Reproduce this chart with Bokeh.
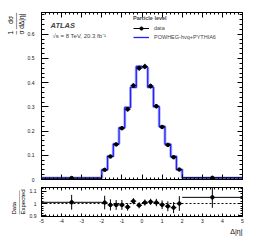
import numpy as np
from bokeh.plotting import figure
from bokeh.layouts import column
from bokeh.models import (Range1d, LinearAxis, FixedTicker, Label, Legend,
                          LegendItem, Span, Title)
from bokeh.embed import file_html
from bokeh.resources import INLINE

# ---------------- data ----------------
bin_edges = [-5.0, -2.0, -1.7143, -1.4286, -1.1429, -0.8571, -0.5714, -0.2857,
             0.0, 0.2857, 0.5714, 0.8571, 1.1429, 1.4286, 1.7143, 2.0, 5.0]
data_vals = [0.006, 0.040, 0.095, 0.145, 0.212, 0.290, 0.388, 0.460,
             0.467, 0.386, 0.303, 0.217, 0.143, 0.092, 0.041, 0.007]
data_err = [0.0006, 0.002, 0.004, 0.006, 0.008, 0.009, 0.010, 0.011,
            0.011, 0.010, 0.009, 0.008, 0.006, 0.004, 0.002, 0.0006]
mc_vals = [0.006, 0.040, 0.096, 0.147, 0.214, 0.298, 0.381, 0.467,
           0.463, 0.381, 0.301, 0.219, 0.146, 0.095, 0.041, 0.0067]
ratio_vals = [1.01, 1.008, 0.989, 0.989, 0.989, 0.972, 1.019, 0.986,
              1.008, 1.014, 1.008, 0.990, 0.978, 0.967, 1.000, 1.05]
ratio_err = [0.06, 0.055, 0.045, 0.04, 0.04, 0.03, 0.025, 0.025,
             0.025, 0.025, 0.03, 0.035, 0.04, 0.045, 0.06, 0.085]

x_ticks = [-5, -4, -3, -2, -1, 0, 1, 2, 3, 4, 5]
x_tick_labels = ["-5", "-4", "-3", "-2", "-1", "0", "1", "2", "3", "4", "5"]
y_ticks = [0.0, 0.1, 0.2, 0.3, 0.4, 0.5, 0.6]
y_tick_labels = ["0", "0.1", "0.2", "0.3", "0.4", "0.5", "0.6"]
r_ticks = [0.9, 1.0, 1.1]
r_tick_labels = ["0.9", "1", "1.1"]

FONT = "Liberation Sans"
NB = "\u00A0"

edges = np.array(bin_edges)
lo = edges[:-1]
hi = edges[1:]
centers = 0.5 * (lo + hi)
dv = np.array(data_vals)
de = np.array(data_err)
rv = np.array(ratio_vals)
re_ = np.array(ratio_err)

x_minor = [float(v) for v in np.round(np.arange(-5, 5.0001, 0.2), 4)]
y_minor = [float(v) for v in np.round(np.arange(0, 0.69, 0.02), 4)]
r_minor = [float(v) for v in np.round(np.arange(0.9, 1.13, 0.02), 4)]


def style_axis(ax, ticks, labels, minor, show_labels, tick_len, minor_len,
               standoff=2, font_size="5px"):
    ax.ticker = FixedTicker(ticks=ticks, minor_ticks=minor)
    ax.major_label_overrides = {t: l for t, l in zip(ticks, labels)}
    ax.major_tick_in = tick_len
    ax.major_tick_out = 0
    ax.minor_tick_in = minor_len
    ax.minor_tick_out = 0
    ax.axis_line_color = "black"
    ax.major_tick_line_color = "black"
    ax.minor_tick_line_color = "black"
    ax.major_label_text_font = FONT
    ax.major_label_text_color = "#111111"
    ax.major_label_standoff = standoff
    if show_labels:
        ax.major_label_text_font_size = font_size
    else:
        ax.major_label_text_font_size = "1px"
        ax.major_label_text_color = None
        ax.major_label_standoff = 0


def side_title(fig, text, place, align, size="6.5px", standoff=0, lh=1.0):
    fig.add_layout(Title(text=text, align=align, text_font=FONT,
                         text_font_size=size, text_font_style="normal",
                         text_color="black", standoff=standoff,
                         text_line_height=lh), place)


# ---------------- main panel ----------------
p = figure(width=257, height=183, x_range=Range1d(-5, 5), y_range=Range1d(0, 0.69),
           output_backend="svg", toolbar_location=None,
           min_border_left=41, min_border_right=15, min_border_top=12,
           min_border_bottom=4)
p.xgrid.visible = False
p.ygrid.visible = False
p.outline_line_color = "black"
p.background_fill_color = "white"

style_axis(p.xaxis[0], x_ticks, x_tick_labels, x_minor, False, 5, 2)
style_axis(p.yaxis[0], y_ticks, y_tick_labels, y_minor, True, 7, 3, standoff=7)
ax_top = LinearAxis()
style_axis(ax_top, x_ticks, x_tick_labels, x_minor, False, 5, 2)
p.add_layout(ax_top, "above")
ax_right = LinearAxis()
style_axis(ax_right, y_ticks, y_tick_labels, y_minor, False, 5, 3)
p.add_layout(ax_right, "right")

step_y = list(mc_vals) + [mc_vals[-1]]
p.step(x=bin_edges, y=step_y, mode="after", line_color="#9999ff",
       line_width=3, line_alpha=0.7)
mc_line = p.step(x=bin_edges, y=step_y, mode="after", line_color="#2020ff",
                 line_width=1.3)

hseg = p.segment(x0=lo, y0=dv, x1=hi, y1=dv, line_color="black", line_width=1)
p.segment(x0=centers, y0=dv - de, x1=centers, y1=dv + de, line_color="black",
          line_width=1)
sc = p.scatter(x=centers, y=dv, size=3.5, color="black")

legend = Legend(items=[LegendItem(label="data", renderers=[hseg, sc]),
                       LegendItem(label="POWHEG-hvq+PYTHIA6", renderers=[mc_line])],
                title="Particle level", location=(92, 138),
                label_text_font=FONT, label_text_font_size="5.5px",
                title_text_font=FONT, title_text_font_size="5.5px",
                title_text_font_style="bold", glyph_width=16, glyph_height=8,
                label_height=8, spacing=1, padding=0, margin=0,
                label_standoff=5, title_standoff=3,
                border_line_alpha=0, background_fill_alpha=0)
p.add_layout(legend)

p.add_layout(Label(x=-4.55, y=0.638, text="ATLAS", text_font=FONT,
                   text_font_style="bold italic", text_font_size="7.5px",
                   text_baseline="middle"))
p.add_layout(Label(x=-4.45, y=0.593, text="\u221As = 8 TeV,  20.3 fb\u207B\u00B9",
                   text_font=FONT, text_font_size="6px", text_baseline="middle"))

# y-axis title: 1/sigma dsigma/dDelta|eta| as stacked fractions (rotated)
ytitle = ("1" + NB * 4 + "d\u03C3" + NB * 2 + "\n"
          + "\u2013" + NB + "\u2014\u2014\u2013" + "\n"
          + "\u03C3" + NB + "d\u0394|\u03B7|")
side_title(p, ytitle, "left", "right", size="6.5px", lh=0.75)

# ---------------- ratio panel ----------------
r = figure(width=257, height=63, x_range=p.x_range, y_range=Range1d(0.895, 1.13),
           output_backend="svg", toolbar_location=None,
           min_border_left=41, min_border_right=15, min_border_top=4,
           min_border_bottom=30)
r.xgrid.visible = False
r.ygrid.visible = False
r.outline_line_color = "black"

style_axis(r.xaxis[0], x_ticks, x_tick_labels, x_minor, True, 3, 2, standoff=2,
           font_size="5px")
style_axis(r.yaxis[0], r_ticks, r_tick_labels, r_minor, True, 5, 2, standoff=5)
rax_top = LinearAxis()
style_axis(rax_top, x_ticks, x_tick_labels, x_minor, False, 3, 2)
r.add_layout(rax_top, "above")
rax_right = LinearAxis()
style_axis(rax_right, r_ticks, r_tick_labels, r_minor, False, 4, 2)
r.add_layout(rax_right, "right")

r.add_layout(Span(location=1.0, dimension="width", line_color="black",
                  line_dash="2 2", line_width=1))
r.segment(x0=lo, y0=rv, x1=hi, y1=rv, line_color="black", line_width=1)
r.segment(x0=centers, y0=rv - re_, x1=centers, y1=rv + re_, line_color="black",
          line_width=1)
r.scatter(x=centers, y=rv, size=3.5, color="black")

side_title(r, "Data" + NB * 2 + "\n\u2014\u2014\u2014\u2014\nExpected", "left",
           "center", size="6px", standoff=0, lh=0.8)
side_title(r, "\u0394|\u03B7|", "below", "right", size="7px")

layout = column(p, r, spacing=0)
open("out.html", "w").write(file_html(layout, INLINE))
